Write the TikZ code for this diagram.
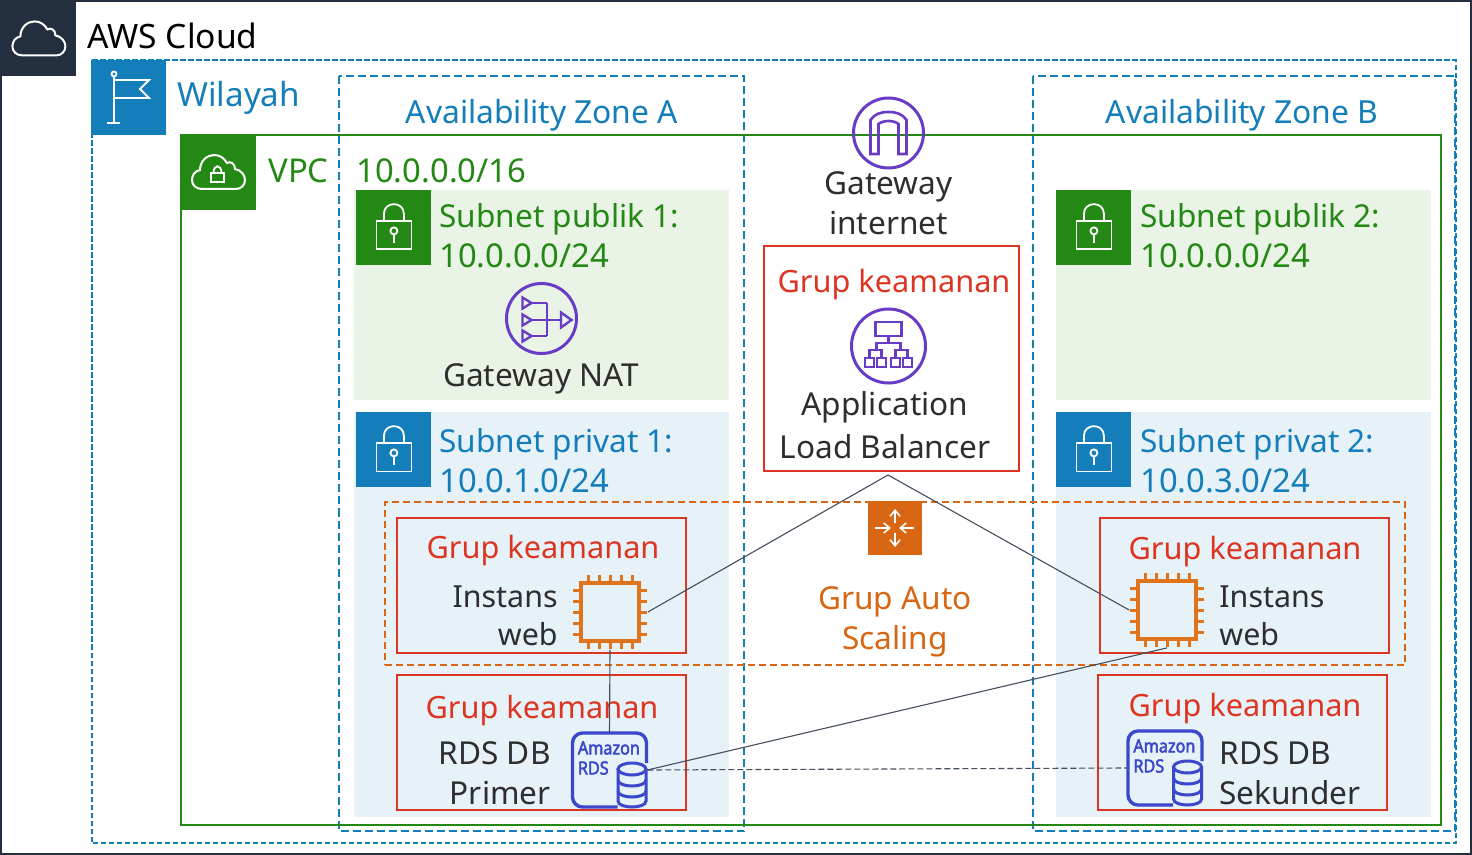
\documentclass[tikz,border=0pt]{standalone}
\usepackage{fontspec}
\setmainfont{Noto Sans}
\newfontfamily\rdsfont[FakeStretch=0.9,FakeBold=2.6]{Noto Sans}
\usepackage[]{xcolor}
\usetikzlibrary{positioning}
\usetikzlibrary{arrows.meta}
\definecolor{awsdark}{HTML}{232F3E}
\definecolor{awsblue}{HTML}{147EBA}
\definecolor{awsgreen}{HTML}{248814}
\definecolor{awsred}{HTML}{DD3522}
\definecolor{awsorange}{HTML}{D86613}
\definecolor{chiporange}{HTML}{E0741C}
\definecolor{awspurple}{HTML}{693CC5}
\definecolor{rdsblue}{HTML}{3B48CC}
\definecolor{pubfill}{HTML}{E9F3E6}
\definecolor{privfill}{HTML}{E6F2F8}
\definecolor{linkgray}{HTML}{454F5C}
\newcommand{\subnetsize}{\fontsize{15.8}{20}\selectfont}
\tikzset{
    label/.style={inner sep=0pt,align=center,font=\fontsize{16.4}{20}\selectfont},
    lefttext/.style={label,anchor=west,align=left},
    zonetext/.style={label,font=\fontsize{15.9}{20}\selectfont},
    grouptext/.style={label,text=awsred,font=\fontsize{15.35}{20}\selectfont},
    plaintext/.style={label,text=black!82,font=\fontsize{15.8}{20}\selectfont},
    webtext/.style={plaintext,font=\fontsize{15.2}{19}\selectfont},
    square/.style={inner sep=0pt,minimum size=37.5pt,anchor=north west},
    iconbox/.style={inner sep=0pt,minimum size=37.5pt},
    grupbox/.style={draw=awsred,line width=1.2pt,inner sep=0pt,outer sep=0pt,anchor=north west},
    link/.style={draw=linkgray,line width=0.55pt},
    pics/cloudicon/.style={code={
        \draw[white,line width=1pt] (-16,17) .. controls (-22,17) and (-26,13) .. (-26,8)
            .. controls (-26,3) and (-23,-1) .. (-18,-2) .. controls (-18,-11) and (-11,-17) .. (-4,-17)
            .. controls (2,-17) and (6,-14) .. (9,-9) .. controls (12,-11) and (17,-9) .. (17,-3)
            .. controls (23,-2) and (27,3) .. (27,8) .. controls (27,13) and (23,17) .. (18,17) -- cycle;
    }},
    pics/lockicon/.style={code={
        \draw[white,line width=0.9pt] (-17.5,-6.5) rectangle (17.5,21.5);
        \draw[white,line width=0.9pt] (-10,-6.5) -- (-10,-14) .. controls (-10,-27) and (10,-27) .. (10,-14) -- (10,-6.5);
        \draw[white,line width=0.9pt] (0,3) circle[radius=3.5];
        \draw[white,line width=0.9pt] (0,6.5) -- (0,15.5);
    }},
    pics/chipicon/.style={code={
        \draw[chiporange,line width=1.8pt] (-29,-29) rectangle (29,29);
        \foreach \pin in {-22,-11,0,11,22}{
            \draw[chiporange,line width=1.5pt] (\pin,-37) -- (\pin,-29);
            \draw[chiporange,line width=1.5pt] (\pin,29) -- (\pin,37);
            \draw[chiporange,line width=1.5pt] (-37,\pin) -- (-29,\pin);
            \draw[chiporange,line width=1.5pt] (29,\pin) -- (37,\pin);
        }
    }},
    pics/rdsicon/.style={code={
        \draw[rdsblue,line width=1.7pt,rounded corners=5pt] (37,-7) -- (37,-37) -- (-37,-37) -- (-37,37) -- (8,37);
        \node[inner sep=0pt,anchor=west,text=rdsblue,font=\rdsfont\fontsize{9}{10}\selectfont] (amazon) at (-32,-22) {Amazon};
        \node[inner sep=0pt,anchor=west,text=rdsblue,font=\rdsfont\fontsize{9}{10}\selectfont] (rds) at (-32,-2) {RDS};
        \draw[rdsblue,line width=1.5pt] (22.5,-1) ellipse[x radius=14,y radius=6];
        \draw[rdsblue,line width=1.5pt] (8.5,-1) -- (8.5,31) .. controls (8.5,39) and (36.5,39) .. (36.5,31) -- (36.5,-1);
        \foreach \band in {10,21}
            \draw[rdsblue,line width=1.5pt] (8.5,\band) .. controls (8.5,\band+8) and (36.5,\band+8) .. (36.5,\band);
    }},
}
\begin{document}
\begin{tikzpicture}[x=0.5pt,y=-0.5pt,>={Straight Barb[length=3pt,width=5pt]}]
    \useasboundingbox (0,0) rectangle (1472,855);
    % cloud
    \fill[white] (0,0) rectangle (1472,855);
    \draw[awsdark,line width=1pt] (1,1) rectangle (1471,854);
    \node[square,fill=awsdark,minimum size=38pt] (cloudsq) at (0,0) {};
    \pic at (cloudsq) {cloudicon};
    \node[lefttext,font=\fontsize{16.8}{20}\selectfont] (cloudtext) at (87,36) {AWS Cloud};
    % subnets
    \fill[pubfill] (354,190) rectangle (729,400);
    \fill[pubfill] (1056,190) rectangle (1431,400);
    \fill[privfill] (354,412) rectangle (729,817);
    \fill[privfill] (1056,412) rectangle (1431,817);
    % region and zones
    \draw[awsblue,line width=1pt,dash pattern=on 2.7pt off 1.3pt] (91.5,60.5) rectangle (1456,843);
    \node[square,fill=awsblue] (regionsq) at (91,60) {};
    \draw[white,line width=0.9pt] (114,76.5) -- (114,123) (107,123) -- (120,123);
    \draw[white,line width=0.9pt] (114,74) circle[radius=2.5];
    \draw[white,line width=0.9pt] (114,80) -- (149,80) -- (140,89) -- (149,98) -- (114,98);
    \node[lefttext,text=awsblue,font=\fontsize{16.6}{20}\selectfont] (regiontext) at (177,98) {Wilayah};
    \draw[awsblue,line width=1pt,dash pattern=on 4pt off 2pt] (339,76.5) rectangle (744,831);
    \draw[awsblue,line width=1pt,dash pattern=on 4pt off 2pt] (1033,76.5) rectangle (1455,831);
    \node[zonetext,text=awsblue] (azatext) at (542,115) {Availability Zone A};
    \node[zonetext,text=awsblue] (azbtext) at (1242,115) {Availability Zone B};
    % vpc
    \draw[awsgreen,line width=1pt] (181,135) rectangle (1441,825);
    \node[square,fill=awsgreen] (vpcsq) at (181,135) {};
    \pic at (218,172) {cloudicon};
    \draw[white,line width=0.9pt] (211,173) rectangle (224,182);
    \draw[white,line width=0.9pt] (213.5,173) .. controls (213.5,164) and (221.5,164) .. (221.5,173);
    \node[lefttext,text=awsgreen] (vpctext) at (268,171) {VPC};
    \node[lefttext,text=awsgreen] (cidrtext) at (356,171) {10.0.0.0/16};
    % subnet headers
    \node[square,fill=awsgreen] (pubasq) at (356,190) {};
    \node[square,fill=awsgreen] (pubbsq) at (1056,190) {};
    \node[square,fill=awsblue] (privasq) at (356,412) {};
    \node[square,fill=awsblue] (privbsq) at (1056,412) {};
    \foreach \point in {pubasq,pubbsq,privasq,privbsq}
        \pic at (\point) {lockicon};
    \node[lefttext,text=awsgreen] (pubatext) at (439,236) {{\subnetsize Subnet publik 1:}\\10.0.0.0/24};
    \node[lefttext,text=awsgreen] (pubbtext) at (1140,236) {{\subnetsize Subnet publik 2:}\\10.0.0.0/24};
    \node[lefttext,text=awsblue] (privatext) at (439,460.5) {{\subnetsize Subnet privat 1:}\\10.0.1.0/24};
    \node[lefttext,text=awsblue] (privbtext) at (1140,460.5) {{\subnetsize Subnet privat 2:}\\10.0.3.0/24};
    % gateways
    \coordinate (igw) at (888.5,133);
    \draw[awspurple,line width=1.5pt] (igw) circle[radius=35];
    \begin{scope}[shift={(igw)}]
        \draw[awspurple,line width=1.3pt] (-18,21) -- (-18,-13) .. controls (-14,-19) and (-8,-21) .. (0,-21)
            .. controls (8,-21) and (14,-19) .. (18,-13) -- (18,21) -- (10,21) -- (10,-9)
            .. controls (5,-13) and (-5,-13) .. (-10,-9) -- (-10,21) -- cycle;
    \end{scope}
    \node[plaintext] (igwtext) at (888.5,203) {Gateway\\internet};
    \coordinate (nat) at (541.5,318.5);
    \draw[awspurple,line width=1.5pt] (nat) circle[radius=35];
    \begin{scope}[shift={(nat)}]
        \foreach \row in {-15.5,1.5,17.5}{
            \draw[awspurple,line width=1.2pt] (-19,\row-5.5) -- (-10,\row) -- (-19,\row+5.5) -- cycle;
            \draw[awspurple,line width=1.2pt] (-10,\row) -- (5.5,\row);
        }
        \draw[awspurple,line width=1.2pt] (5.5,-15.5) -- (5.5,17.5) (5.5,1.5) -- (19.5,1.5);
        \draw[awspurple,line width=1.2pt] (19.5,-6) -- (30,1.5) -- (19.5,9) -- cycle;
    \end{scope}
    \node[plaintext] (nattext) at (541,379) {Gateway NAT};
    % load balancer
    \node[grupbox,minimum width=127.5pt,minimum height=112.5pt] (sgalb) at (764,246) {};
    \node[grouptext] (sgalbtext) at (894,284.5) {Grup keamanan};
    \coordinate (alb) at (888.5,346);
    \draw[awspurple,line width=1.5pt] (alb) circle[radius=37];
    \begin{scope}[shift={(alb)}]
        \draw[awspurple,line width=1.3pt] (-13,-24) rectangle (13,-10);
        \draw[awspurple,line width=1.3pt] (0,-10) -- (0,-3) (-12,4) -- (-12,-3) -- (12,-3) -- (12,4);
        \draw[awspurple,line width=1.3pt] (-19,12) -- (-19,4) -- (-7,4) -- (-7,12) (7,12) -- (7,4) -- (19,4) -- (19,12);
        \foreach \leaf in {-19,-7,7,19}
            \draw[awspurple,line width=1.3pt] (\leaf-4.5,12) rectangle (\leaf+4.5,21);
    \end{scope}
    \node[plaintext] (albtext) at (885,425.5) {Application\\[1.5pt]Load Balancer};
    % auto scaling
    \node[draw=awsorange,line width=0.9pt,dash pattern=on 3.5pt off 2pt,inner sep=0pt,outer sep=0pt,anchor=north west,minimum width=510pt,minimum height=81.5pt] (asg) at (385,502) {};
    \node[inner sep=0pt,minimum size=27pt,fill=awsorange] (asgsq) at (895,528) {};
    \begin{scope}[shift={(asgsq)}]
        \draw[->,white,line width=0.8pt] (-20,0) -- (-4,0);
        \draw[->,white,line width=0.8pt] (19,0) -- (4,0);
        \draw[->,white,line width=0.8pt] (0,-5) -- (0,-19);
        \draw[->,white,line width=0.8pt] (0,5) -- (0,19);
    \end{scope}
    \node[zonetext,text=awsorange,font=\fontsize{15.8}{20}\selectfont] (asgtext) at (895,622) {Grup Auto\\Scaling};
    % zone a instances
    \node[grupbox,minimum width=144.5pt,minimum height=67.5pt] (sgweba) at (397,518) {};
    \node[grouptext] (sgwebatext) at (543,550.5) {Grup keamanan};
    \node[iconbox] (ec2a) at (610,612) {};
    \pic at (ec2a) {chipicon};
    \node[webtext,anchor=east,align=right] (ec2atext) at (558,616) {Instans\\web};
    \node[grupbox,minimum width=144.5pt,minimum height=67.5pt] (sgdba) at (397,675) {};
    \node[grouptext] (sgdbatext) at (542,710.5) {Grup keamanan};
    \node[iconbox] (rdsa) at (609.5,770) {};
    \pic at (rdsa) {rdsicon};
    \node[plaintext,anchor=east,align=right] (rdsatext) at (551,773) {RDS DB\\Primer};
    % zone b instances
    \node[grupbox,minimum width=144.5pt,minimum height=67.5pt] (sgwebb) at (1100,518) {};
    \node[grouptext] (sgwebbtext) at (1245,551.5) {Grup keamanan};
    \node[iconbox] (ec2b) at (1167,610) {};
    \pic at (ec2b) {chipicon};
    \node[webtext,anchor=west,align=left] (ec2btext) at (1219,616) {Instans\\web};
    \node[grupbox,minimum width=144.5pt,minimum height=67.5pt] (sgdbb) at (1098,675) {};
    \node[grouptext] (sgdbbtext) at (1245,708.5) {Grup keamanan};
    \node[iconbox] (rdsb) at (1165,768) {};
    \pic at (rdsb) {rdsicon};
    \node[plaintext,anchor=west,align=left] (rdsbtext) at (1219,773) {RDS DB\\Sekunder};
    % connectors
    \coordinate (apex) at (888,475);
    \draw[link] (ec2a.east) -- (apex) -- (ec2b.west);
    \draw[link] (ec2a.south) -- (rdsa.north);
    \draw[link] (rdsa.east) -- (ec2b.south);
    \draw[link,dash pattern=on 3pt off 1.5pt] (rdsa.east) -- (rdsb.west);
\end{tikzpicture}
\end{document}
